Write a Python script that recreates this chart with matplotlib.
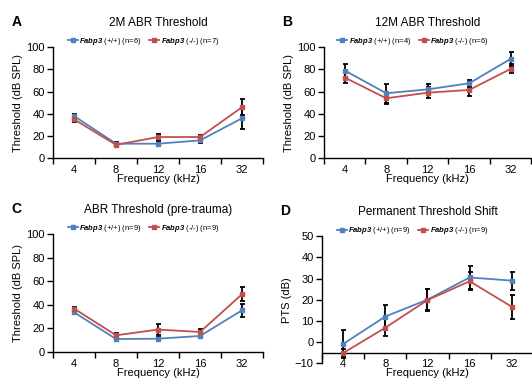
import matplotlib.pyplot as plt
import numpy as np

plt.rcParams['font.family'] = ['Liberation Sans', 'DejaVu Sans']
plt.rcParams['mathtext.fontset'] = 'custom'
plt.rcParams['mathtext.rm'] = 'Liberation Sans'
plt.rcParams['mathtext.it'] = 'Liberation Sans:italic'
plt.rcParams['mathtext.bf'] = 'Liberation Sans:bold'
plt.rcParams['mathtext.bfit'] = 'Liberation Sans:italic:bold'

freqs = ['4', '8', '12', '16', '32']
BLUE = '#4F81BD'
RED = '#C0504D'

# A: 2M ABR threshold
a_wt = [38, 13, 13, 16, 36]
a_wt_err = [2, 1.5, 2, 2, 10]
a_ko = [35, 12, 19, 19, 46]
a_ko_err = [2, 1.5, 2.5, 2, 7.5]

# B: 12M ABR threshold
b_wt = [79, 58.5, 62, 67.5, 89.5]
b_wt_err = [6, 8.5, 4.5, 3, 6]
b_ko = [72.7, 54, 59, 61.5, 80.5]
b_ko_err = [4.7, 5.5, 5, 5.5, 4]

# C: pre-trauma threshold
c_wt = [33.7, 11, 11.3, 13.6, 35.4]
c_wt_err = [1.5, 1.5, 1.5, 1.5, 5.4]
c_ko = [36.8, 14.2, 19, 17, 49]
c_ko_err = [1.5, 2, 4.5, 2.5, 5.7]

# D: permanent threshold shift
d_wt = [-1, 12, 20, 30.5, 29]
d_wt_err = [6.7, 5.5, 5, 5.5, 4.2]
d_ko = [-5.3, 6.7, 19.8, 28.7, 16.6]
d_ko_err = [2, 4, 5.4, 4.2, 5.6]


def panel(rect, letter, title, wt, wt_err, ko, ko_err, n_wt, n_ko,
          ylim, yticks, ylabel, xcross=None):
    ax = fig.add_axes(rect)
    x = np.arange(len(freqs))
    ax.errorbar(x, wt, yerr=wt_err, fmt='none', ecolor='black',
                elinewidth=1.3, capsize=1.8, capthick=1.3, zorder=2)
    ax.errorbar(x, ko, yerr=ko_err, fmt='none', ecolor='black',
                elinewidth=1.3, capsize=1.8, capthick=1.3, zorder=2)
    ax.plot(x, wt, color=BLUE, marker='s', markersize=3.5, linewidth=1.3,
            label=r'$\mathbfit{Fabp3}$ (+/+) (n=%d)' % n_wt, zorder=3)
    ax.plot(x, ko, color=RED, marker='s', markersize=3.5, linewidth=1.3,
            label=r'$\mathbfit{Fabp3}$ (-/-) (n=%d)' % n_ko, zorder=3)

    ax.set_xlim(-0.5, 4.5)
    ax.set_ylim(*ylim)
    ax.set_yticks(yticks)
    ax.set_xticks(np.arange(-0.5, 5, 1.0))
    ax.set_xticklabels([])
    ax.set_xticks(x, minor=True)
    ax.set_xticklabels(freqs, minor=True)
    ax.tick_params(axis='x', which='minor', length=0, labelsize=8, pad=5)
    ax.tick_params(axis='x', which='major', length=4, direction='out', width=1)
    ax.tick_params(axis='y', length=4, direction='out', width=1, labelsize=8, pad=2)
    for s in ['top', 'right']:
        ax.spines[s].set_visible(False)
    for s in ['left', 'bottom']:
        ax.spines[s].set_linewidth(1)
    if xcross is not None:
        ax.spines['bottom'].set_position(('data', xcross))
    ax.set_ylabel(ylabel, fontsize=8, labelpad=2)
    ax.set_xlabel('Frequency (kHz)', fontsize=8, labelpad=-1)
    ax.set_title(title, fontsize=8.5, pad=15)
    ax.legend(loc='lower center', bbox_to_anchor=(0.43, 0.97), ncol=2,
              frameon=False, fontsize=5.5, handlelength=1.3, handletextpad=0.2,
              columnspacing=1.0, borderpad=0)
    ax.annotate(letter, xy=(0, 1), xycoords='axes fraction',
                xytext=(-30, 18), textcoords='offset points',
                fontsize=10, fontweight='bold', va='center')
    return ax


fig = plt.figure(figsize=(5.32, 3.81), dpi=100)

panel([0.0996, 0.585, 0.395, 0.291], 'A', '2M ABR Threshold',
      a_wt, a_wt_err, a_ko, a_ko_err, 6, 7,
      (0, 100), range(0, 101, 20), 'Threshold (dB SPL)')
panel([0.609, 0.585, 0.39, 0.291], 'B', '12M ABR Threshold',
      b_wt, b_wt_err, b_ko, b_ko_err, 4, 6,
      (0, 100), range(0, 101, 20), 'Threshold (dB SPL)')
panel([0.0996, 0.076, 0.395, 0.31], 'C', 'ABR Threshold (pre-trauma)',
      c_wt, c_wt_err, c_ko, c_ko_err, 9, 9,
      (0, 100), range(0, 101, 20), 'Threshold (dB SPL)')
panel([0.605, 0.047, 0.397, 0.333], 'D', 'Permanent Threshold Shift',
      d_wt, d_wt_err, d_ko, d_ko_err, 9, 9,
      (-10, 50), range(-10, 51, 10), 'PTS (dB)', xcross=-5)

fig.savefig('out.png', dpi=100)
